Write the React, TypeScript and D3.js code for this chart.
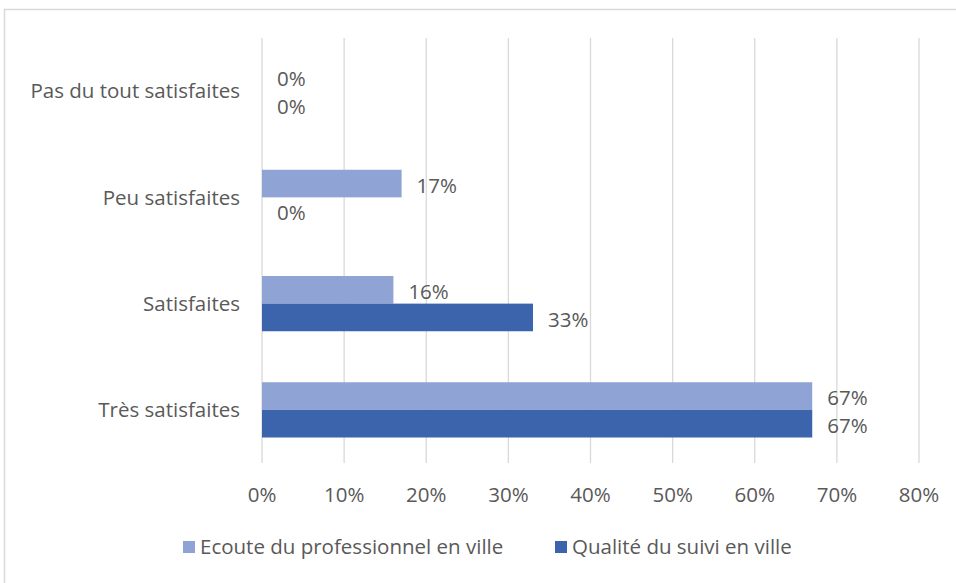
import * as React from 'react';
import * as d3 from 'd3';

const categories = ['Pas du tout satisfaites', 'Peu satisfaites', 'Satisfaites', 'Très satisfaites'];
const seriesNames = ['Ecoute du professionnel en ville', 'Qualité du suivi en ville'];
const ecoute = [0, 17, 16, 67];
const qualite = [0, 0, 33, 67];
const xTicks = [0, 10, 20, 30, 40, 50, 60, 70, 80];
const colors = ['#8FA4D4', '#3B64AD'];

const W = 956;
const H = 583;
const margin = { left: 262, right: 37, top: 38, bottom: 120 };
const FONT = "'Open Sans', 'Noto Sans', sans-serif";
const TEXT = '#595959';
const FS = 20.5;

export default function App() {
  const x = d3.scaleLinear().domain([0, 80]).range([margin.left, W - margin.right]);
  const y = d3.scaleBand<string>().domain(categories).range([margin.top, H - margin.bottom]).paddingInner(0.48).paddingOuter(0.24);
  const inner = d3.scaleBand<number>().domain([0, 1]).range([0, y.bandwidth()]);
  const series = [ecoute, qualite];

  return (
    <svg width={W} height={H} style={{ position: 'absolute', left: 0, top: 0 }} fontFamily={FONT}>
      <rect x={0} y={0} width={W} height={H} fill="#fff" />
      <rect x={4.5} y={9.5} width={W + 10} height={H + 10} fill="none" stroke="#d9d9d9" strokeWidth={1.5} />
      {xTicks.map(t => (
        <line key={t} x1={x(t)} x2={x(t)} y1={margin.top} y2={H - margin.bottom} stroke="#d9d9d9" strokeWidth={1.3} />
      ))}
      {categories.map((c, i) => (
        <g key={c}>
          <text x={240} y={y(c)! + y.bandwidth() / 2} dy="0.35em" textAnchor="end" fontSize={FS} fill={TEXT}>{c}</text>
          {series.map((s, k) => {
            const yy = y(c)! + inner(k)!;
            return (
              <g key={k}>
                <rect x={x(0)} y={yy} width={x(s[i]) - x(0)} height={inner.bandwidth()} fill={colors[k]} />
                <text x={x(s[i]) + 15} y={yy + inner.bandwidth() / 2 + 2} dy="0.35em" fontSize={FS} fill={TEXT}>{s[i]}%</text>
              </g>
            );
          })}
        </g>
      ))}
      {xTicks.map(t => (
        <text key={t} x={x(t)} y={495} dy="0.35em" textAnchor="middle" fontSize={FS} fill={TEXT}>{t}%</text>
      ))}
      {seriesNames.map((n, k) => {
        const lx = k === 0 ? 183 : 555;
        return (
          <g key={n}>
            <rect x={lx} y={541} width={12} height={12} fill={colors[k]} />
            <text x={lx + 17} y={547} dy="0.35em" fontSize={FS} fill={TEXT}>{n}</text>
          </g>
        );
      })}
    </svg>
  );
}
